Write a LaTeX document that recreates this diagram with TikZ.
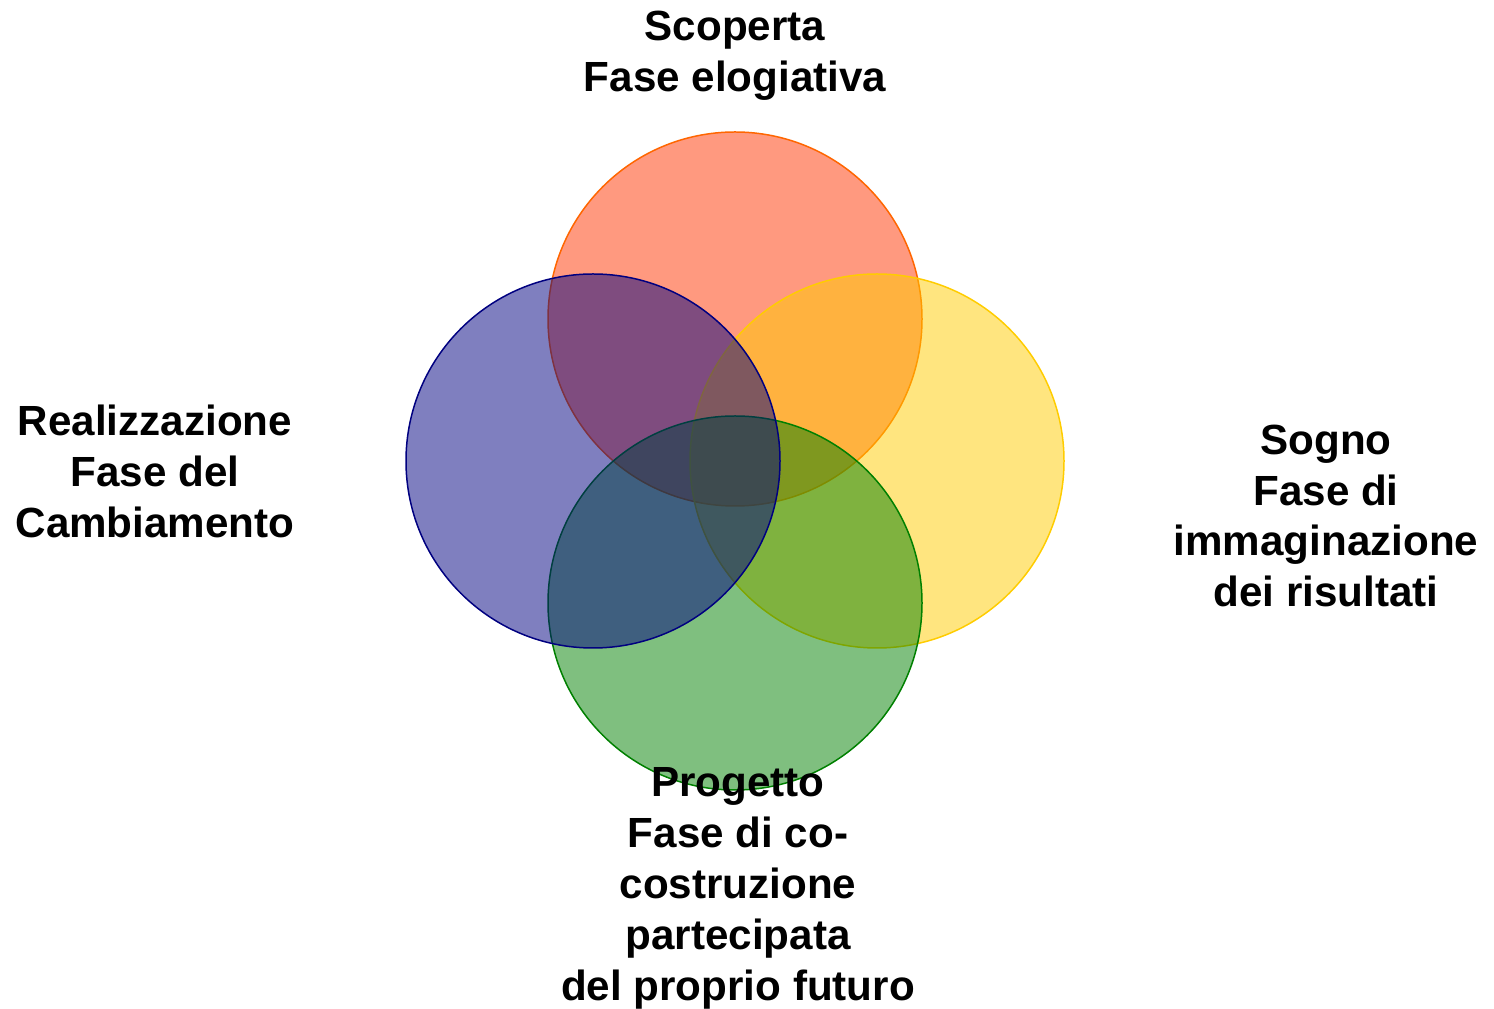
\documentclass[tikz,border=0pt]{standalone}
\usepackage{fontspec}
\setmainfont{Liberation Sans}
\usetikzlibrary{calc}

\definecolor{scopertacol}{RGB}{255,51,0}
\definecolor{scopertaline}{RGB}{255,102,0}
\definecolor{sognocol}{RGB}{255,204,0}
\definecolor{realizzcol}{RGB}{0,0,128}
\definecolor{progettocol}{RGB}{0,128,0}

\begin{document}
\begin{tikzpicture}[
  petal/.style={circle, minimum size=7.48cm, inner sep=0pt, line width=0.85pt, fill opacity=0.5},
  phase/.style={align=center, font=\fontsize{24}{29}\selectfont\bfseries}
]
\useasboundingbox (0,0) rectangle (29.88,20.18);

% --- Centre of the flower
\coordinate (mid) at (14.7,10.96);

% --- Circles (back to front)
\node[petal, draw=scopertaline, fill=scopertacol] (scoperta) at ($(mid)+(0,2.84)$) {};
\node[petal, draw=sognocol, fill=sognocol]        (sogno)    at ($(mid)+(2.84,0)$) {};
\node[petal, draw=progettocol, fill=progettocol]  (progetto) at ($(mid)+(0,-2.84)$) {};
\node[petal, draw=realizzcol, fill=realizzcol]    (realizz)  at ($(mid)+(-2.84,0)$) {};

% --- Labels
\node[phase] (lscoperta) at (14.7,19.06) {Scoperta\\Fase elogiativa};
\node[phase] (lrealizz)  at (3.1,10.76)  {Realizzazione\\Fase del\\Cambiamento};
\node[phase] (lsogno)    at (26.52,9.86) {Sogno\\Fase di\\immaginazione\\dei risultati};
\node[phase] (lprogetto) at (14.76,2.42) {Progetto\\Fase di co-\\costruzione\\partecipata\\del proprio futuro};

\end{tikzpicture}
\end{document}
